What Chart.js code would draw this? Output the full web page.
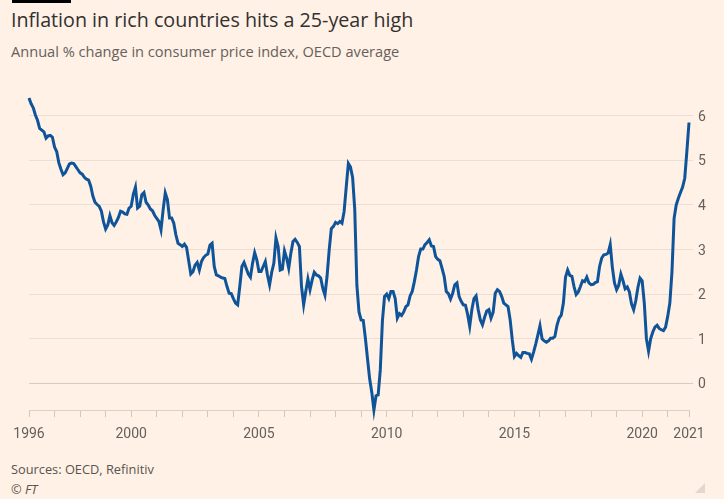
<!DOCTYPE html>
<html>
<head>
<meta charset="utf-8">
<script src="https://cdn.jsdelivr.net/npm/chart.js@4"></script>
<style>
  html, body { margin: 0; padding: 0; }
  body { width: 724px; height: 499px; background: #fff1e5; position: relative; overflow: hidden; font-family: "Open Sans", Roboto, sans-serif; }
  .bar { position: absolute; left: 12px; top: 0; width: 59px; height: 3px; background: #000; }
  .titulo { position: absolute; left: 11px; top: 8px; font-size: 19.7px; line-height: 24px; color: #33302e; white-space: nowrap; }
  .sub { position: absolute; left: 11px; top: 42px; font-size: 14.6px; line-height: 18px; color: #66605c; white-space: nowrap; }
  .fonte { position: absolute; left: 11px; top: 461px; font-size: 12.8px; line-height: 16px; color: #59534f; }
  .ft { position: absolute; left: 11px; top: 481px; font-size: 12.8px; line-height: 16px; color: #59534f; font-style: italic; }
  .grip { position: absolute; left: 695px; top: 483px; width: 0; height: 0; border-left: 10px solid transparent; border-bottom: 10px solid #e3d8cf; }
  #wrap { position: absolute; left: 0; top: 80px; width: 724px; height: 380px; }
</style>
</head>
<body>
<div class="bar"></div>
<div class="titulo">Inflation in rich countries hits a 25-year high</div>
<div class="sub">Annual % change in consumer price index, OECD average</div>
<div id="wrap"><canvas id="grafico"></canvas></div>
<div class="fonte">Sources: OECD, Refinitiv</div>
<div class="ft">© FT</div>
<div class="grip"></div>
<script>
// DADOS: inflacao mensal OECD (%), jan 1996 ate nov 2021
const startYear = 1996;
const cpi1996to2003 = [
  6.40, 6.27, 6.18, 6.02, 5.90, 5.72, 5.68, 5.64, 5.50, 5.55, 5.56, 5.52,
  5.30, 5.20, 4.95, 4.80, 4.68, 4.72, 4.82, 4.92, 4.94, 4.93, 4.86, 4.79,
  4.72, 4.69, 4.62, 4.58, 4.56, 4.42, 4.20, 4.06, 4.01, 3.97, 3.86, 3.62,
  3.46, 3.55, 3.76, 3.60, 3.54, 3.62, 3.72, 3.86, 3.84, 3.80, 3.79, 3.93,
  3.97, 4.24, 4.40, 3.93, 3.97, 4.23, 4.28, 4.06, 4.00, 3.91, 3.87, 3.77,
  3.70, 3.63, 3.44, 3.89, 4.27, 4.12, 3.71, 3.71, 3.59, 3.33, 3.14, 3.11,
  3.07, 3.12, 3.05, 2.75, 2.45, 2.50, 2.65, 2.71, 2.54, 2.73, 2.82, 2.87,
  2.90, 3.10, 3.14, 2.62, 2.43, 2.41, 2.38, 2.36, 2.35, 2.17, 2.02, 2.01
];
const cpi2004to2011 = [
  1.90, 1.80, 1.76, 2.17, 2.62, 2.71, 2.58, 2.45, 2.38, 2.69, 2.93, 2.77,
  2.51, 2.51, 2.62, 2.73, 2.43, 2.21, 2.49, 2.69, 3.26, 3.07, 2.54, 2.56,
  2.97, 2.81, 2.58, 2.92, 3.18, 3.23, 3.16, 3.07, 2.17, 1.76, 2.06, 2.34,
  2.10, 2.32, 2.49, 2.43, 2.41, 2.36, 2.13, 1.98, 2.40, 2.99, 3.47, 3.52,
  3.61, 3.58, 3.63, 3.59, 3.85, 4.40, 4.93, 4.85, 4.62, 3.90, 2.20, 1.60,
  1.42, 1.41, 1.01, 0.55, 0.10, -0.20, -0.60, -0.28, -0.26, 0.30, 1.40, 1.95,
  2.00, 1.90, 2.06, 2.06, 1.90, 1.46, 1.56, 1.52, 1.60, 1.72, 1.76, 1.96,
  2.06, 2.28, 2.54, 2.85, 3.01, 3.01, 3.11, 3.16, 3.22, 3.08, 3.07, 2.84
];
const cpi2012to2021 = [
  2.78, 2.75, 2.58, 2.40, 2.06, 2.01, 1.89, 2.02, 2.21, 2.25, 1.95, 1.84,
  1.76, 1.75, 1.55, 1.28, 1.65, 1.90, 1.96, 1.65, 1.42, 1.31, 1.48, 1.62,
  1.65, 1.46, 1.59, 2.02, 2.10, 2.06, 1.95, 1.80, 1.76, 1.72, 1.42, 0.97,
  0.60, 0.67, 0.62, 0.58, 0.69, 0.69, 0.67, 0.66, 0.54, 0.70, 0.88, 1.08,
  1.29, 1.00, 0.95, 0.92, 0.95, 1.01, 1.01, 1.05, 1.30, 1.46, 1.53, 1.80,
  2.38, 2.54, 2.42, 2.40, 2.17, 1.99, 2.05, 2.17, 2.30, 2.28, 2.38, 2.25,
  2.21, 2.22, 2.26, 2.28, 2.62, 2.81, 2.88, 2.89, 2.92, 3.11, 2.60, 2.25,
  2.10, 2.20, 2.45, 2.30, 2.12, 2.16, 2.05, 1.78, 1.65, 1.85, 2.15, 2.36,
  2.30, 1.80, 1.00, 0.72, 1.00, 1.15, 1.26, 1.30, 1.23, 1.20, 1.18, 1.26,
  1.50, 1.80, 2.50, 3.70, 4.00, 4.15, 4.28, 4.40, 4.60, 5.20, 5.85
];
const labeledYears = [1996, 2000, 2005, 2010, 2015, 2020];
const endLabel = "2021";
const yTicks = [0, 1, 2, 3, 4, 5, 6];

const cpi = cpi1996to2003.concat(cpi2004to2011, cpi2012to2021);

// ROTULOS MENSAIS
let meses = [];
for (let i = 0; i < cpi.length; i++) {
  let ano = startYear + Math.floor(i / 12);
  let mes = (i % 12) + 1;
  meses.push(ano + "-" + (mes < 10 ? "0" + mes : mes));
}

const corTexto = "#66605c";
const fonteEixo = { family: "Roboto, 'Noto Sans', sans-serif", size: 14 };

new Chart(document.getElementById("grafico"), {
  type: "line",
  data: {
    labels: meses,
    datasets: [
      {
        data: cpi,
        borderColor: "#0f5499",
        borderWidth: 3,
        pointRadius: 0,
        tension: 0,
        clip: false,
      },
    ],
  },
  options: {
    responsive: true,
    maintainAspectRatio: false,
    animation: false,
    layout: { padding: { left: 29, right: 0, top: 18, bottom: 10 } },
    plugins: { legend: { display: false }, tooltip: { enabled: false } },
    scales: {
      x: {
        type: "category",
        offset: false,
        afterBuildTicks: function (scale) {
          // so janeiro de cada ano e o ultimo mes
          scale.ticks = scale.ticks.filter(function (t) {
            return t.value % 12 === 0 || t.value === cpi.length - 1;
          });
        },
        afterFit: function (scale) {
          scale.height = 40;
        },
        ticks: {
          autoSkip: false,
          maxRotation: 0,
          padding: 9,
          color: corTexto,
          font: fonteEixo,
          callback: function (value) {
            if (value === cpi.length - 1) return endLabel;
            let ano = startYear + Math.floor(value / 12);
            return labeledYears.indexOf(ano) !== -1 ? String(ano) : "";
          },
        },
        grid: {
          drawOnChartArea: false,
          drawTicks: true,
          tickLength: 7,
          color: "#d3c7bd",
        },
        border: { display: true, color: "#ddd1c7", dash: [2, 2] },
      },
      y: {
        position: "right",
        min: -0.6,
        max: 6.4,
        afterBuildTicks: function (scale) {
          scale.ticks = yTicks.map(function (v) {
            return { value: v };
          });
        },
        afterFit: function (scale) {
          scale.width = 35;
        },
        ticks: {
          padding: 5,
          labelOffset: 1.5,
          color: corTexto,
          font: fonteEixo,
        },
        grid: {
          tickLength: 4,
          color: function (ctx) {
            return ctx.tick && ctx.tick.value === 0 ? "#d8ccc2" : "#ebdfd5";
          },
        },
        border: { display: false },
      },
    },
  },
});
</script>
</body>
</html>
